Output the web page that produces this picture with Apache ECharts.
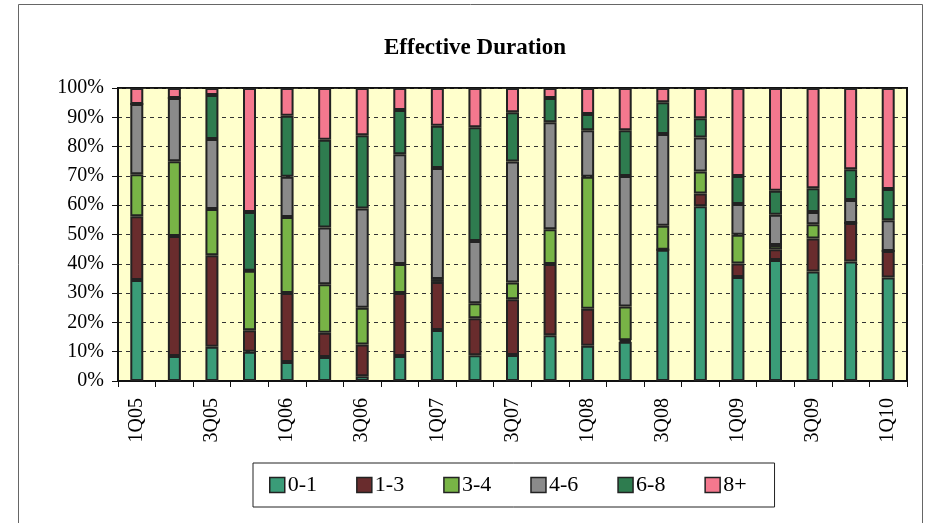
<!DOCTYPE html>
<html>
<head>
<meta charset="utf-8">
<script src="https://cdn.jsdelivr.net/npm/echarts@6/dist/echarts.min.js"></script>
<style>
html,body{margin:0;padding:0;background:#fff;}
#c{width:926px;height:523px;}
</style>
</head>
<body>
<div id="c"></div>
<script>
const categories = ['1Q05','2Q05','3Q05','4Q05','1Q06','2Q06','3Q06','4Q06','1Q07','2Q07','3Q07','4Q07','1Q08','2Q08','3Q08','4Q08','1Q09','2Q09','3Q09','4Q09','1Q10'];
const seriesNames = ['0-1','1-3','3-4','4-6','6-8','8+'];
const d01 = [34.5, 8.5, 11.7, 10, 6.5, 8.2, 1.6, 8.5, 17.4, 8.8, 8.9, 15.6, 12, 13.4, 44.8, 59.6, 35.5, 41.3, 37.4, 40.8, 35.3];
const d13 = [21.7, 41, 31.2, 7.3, 23.5, 8.3, 10.9, 21.5, 16.4, 12.6, 19, 24.3, 12.7, 0.5, 0, 4.4, 4.6, 3.7, 11.2, 13.1, 9.1];
const d34 = [14.4, 25.5, 15.8, 20.3, 26, 16.5, 12.5, 9.9, 1, 5.1, 5.7, 11.9, 45, 11.5, 8.2, 7.5, 9.8, 1.4, 4.9, 0, 0];
const d46 = [23.9, 21.6, 23.9, 0, 13.7, 19.4, 33.9, 37.5, 37.9, 21.3, 41.3, 36.5, 15.9, 44.6, 31.3, 11.6, 10.5, 10.3, 4.2, 7.9, 10.5];
const d68 = [0, 0, 15, 20.1, 20.8, 29.9, 25, 15.1, 14.4, 38.8, 16.8, 8.3, 5.5, 15.6, 10.8, 6.6, 9.6, 8.2, 8.1, 10.5, 10.6];
const d8p = [5.5, 3.4, 2.4, 42.3, 9.5, 17.7, 16.1, 7.5, 12.9, 13.4, 8.3, 3.4, 8.9, 14.4, 4.9, 10.3, 30, 35.1, 34.2, 27.7, 34.5];
const allData = [d01, d13, d34, d46, d68, d8p];
const colors = ['#3a9c78', '#692c2d', '#78b446', '#8a8a8a', '#2e7c4f', '#f4788e'];

const font = '"Liberation Serif", "Times New Roman", serif';
const chart = echarts.init(document.getElementById('c'), null, {renderer: 'canvas'});
chart.setOption({
  animation: false,
  backgroundColor: '#fff',
  color: colors,
  title: {
    text: 'Effective Duration',
    left: 470, textAlign: 'center', top: 32,
    textStyle: {fontFamily: font, fontWeight: 'bold', fontSize: 23, color: '#000'}
  },
  graphic: [{
    type: 'rect', left: 16, top: 2, silent: true,
    shape: {width: 904, height: 520},
    style: {fill: 'none', stroke: '#666', lineWidth: 1}
  }],
  grid: {
    left: 118, right: 19, top: 88, bottom: 142,
    show: true, backgroundColor: '#ffffcc', borderColor: '#111', borderWidth: 2
  },
  legend: {
    left: 253, top: 463,
    padding: [11, 28, 11, 16],
    borderColor: '#222', borderWidth: 1,
    itemWidth: 15, itemHeight: 15, itemGap: 39,
    icon: 'rect',
    itemStyle: {borderColor: '#222', borderWidth: 1.5},
    textStyle: {fontFamily: font, fontSize: 22, color: '#000', padding: [0,0,0,-2]},
    data: seriesNames
  },
  xAxis: {
    type: 'category', data: categories,
    axisLine: {lineStyle: {color: '#111', width: 2}},
    axisTick: {show: true, interval: 0, length: 6, lineStyle: {color: '#111', width: 1}},
    axisLabel: {interval: 1, rotate: 90, margin: 17, fontFamily: font, fontSize: 20, color: '#000'}
  },
  yAxis: {
    type: 'value', min: 0, max: 100, interval: 10,
    axisLine: {show: true, lineStyle: {color: '#111', width: 2}},
    axisTick: {show: true, length: 6, lineStyle: {color: '#111', width: 1}},
    axisLabel: {formatter: '{value}%', margin: 14, fontFamily: font, fontSize: 20, color: '#000'},
    splitLine: {show: true, lineStyle: {color: '#333', width: 1, type: [4, 4]}}
  },
  series: seriesNames.map((n, i) => ({
    name: n, type: 'bar', stack: 'total', barWidth: 13,
    data: allData[i],
    itemStyle: {color: colors[i], borderColor: '#222', borderWidth: 2}
  }))
});
</script>
</body>
</html>
